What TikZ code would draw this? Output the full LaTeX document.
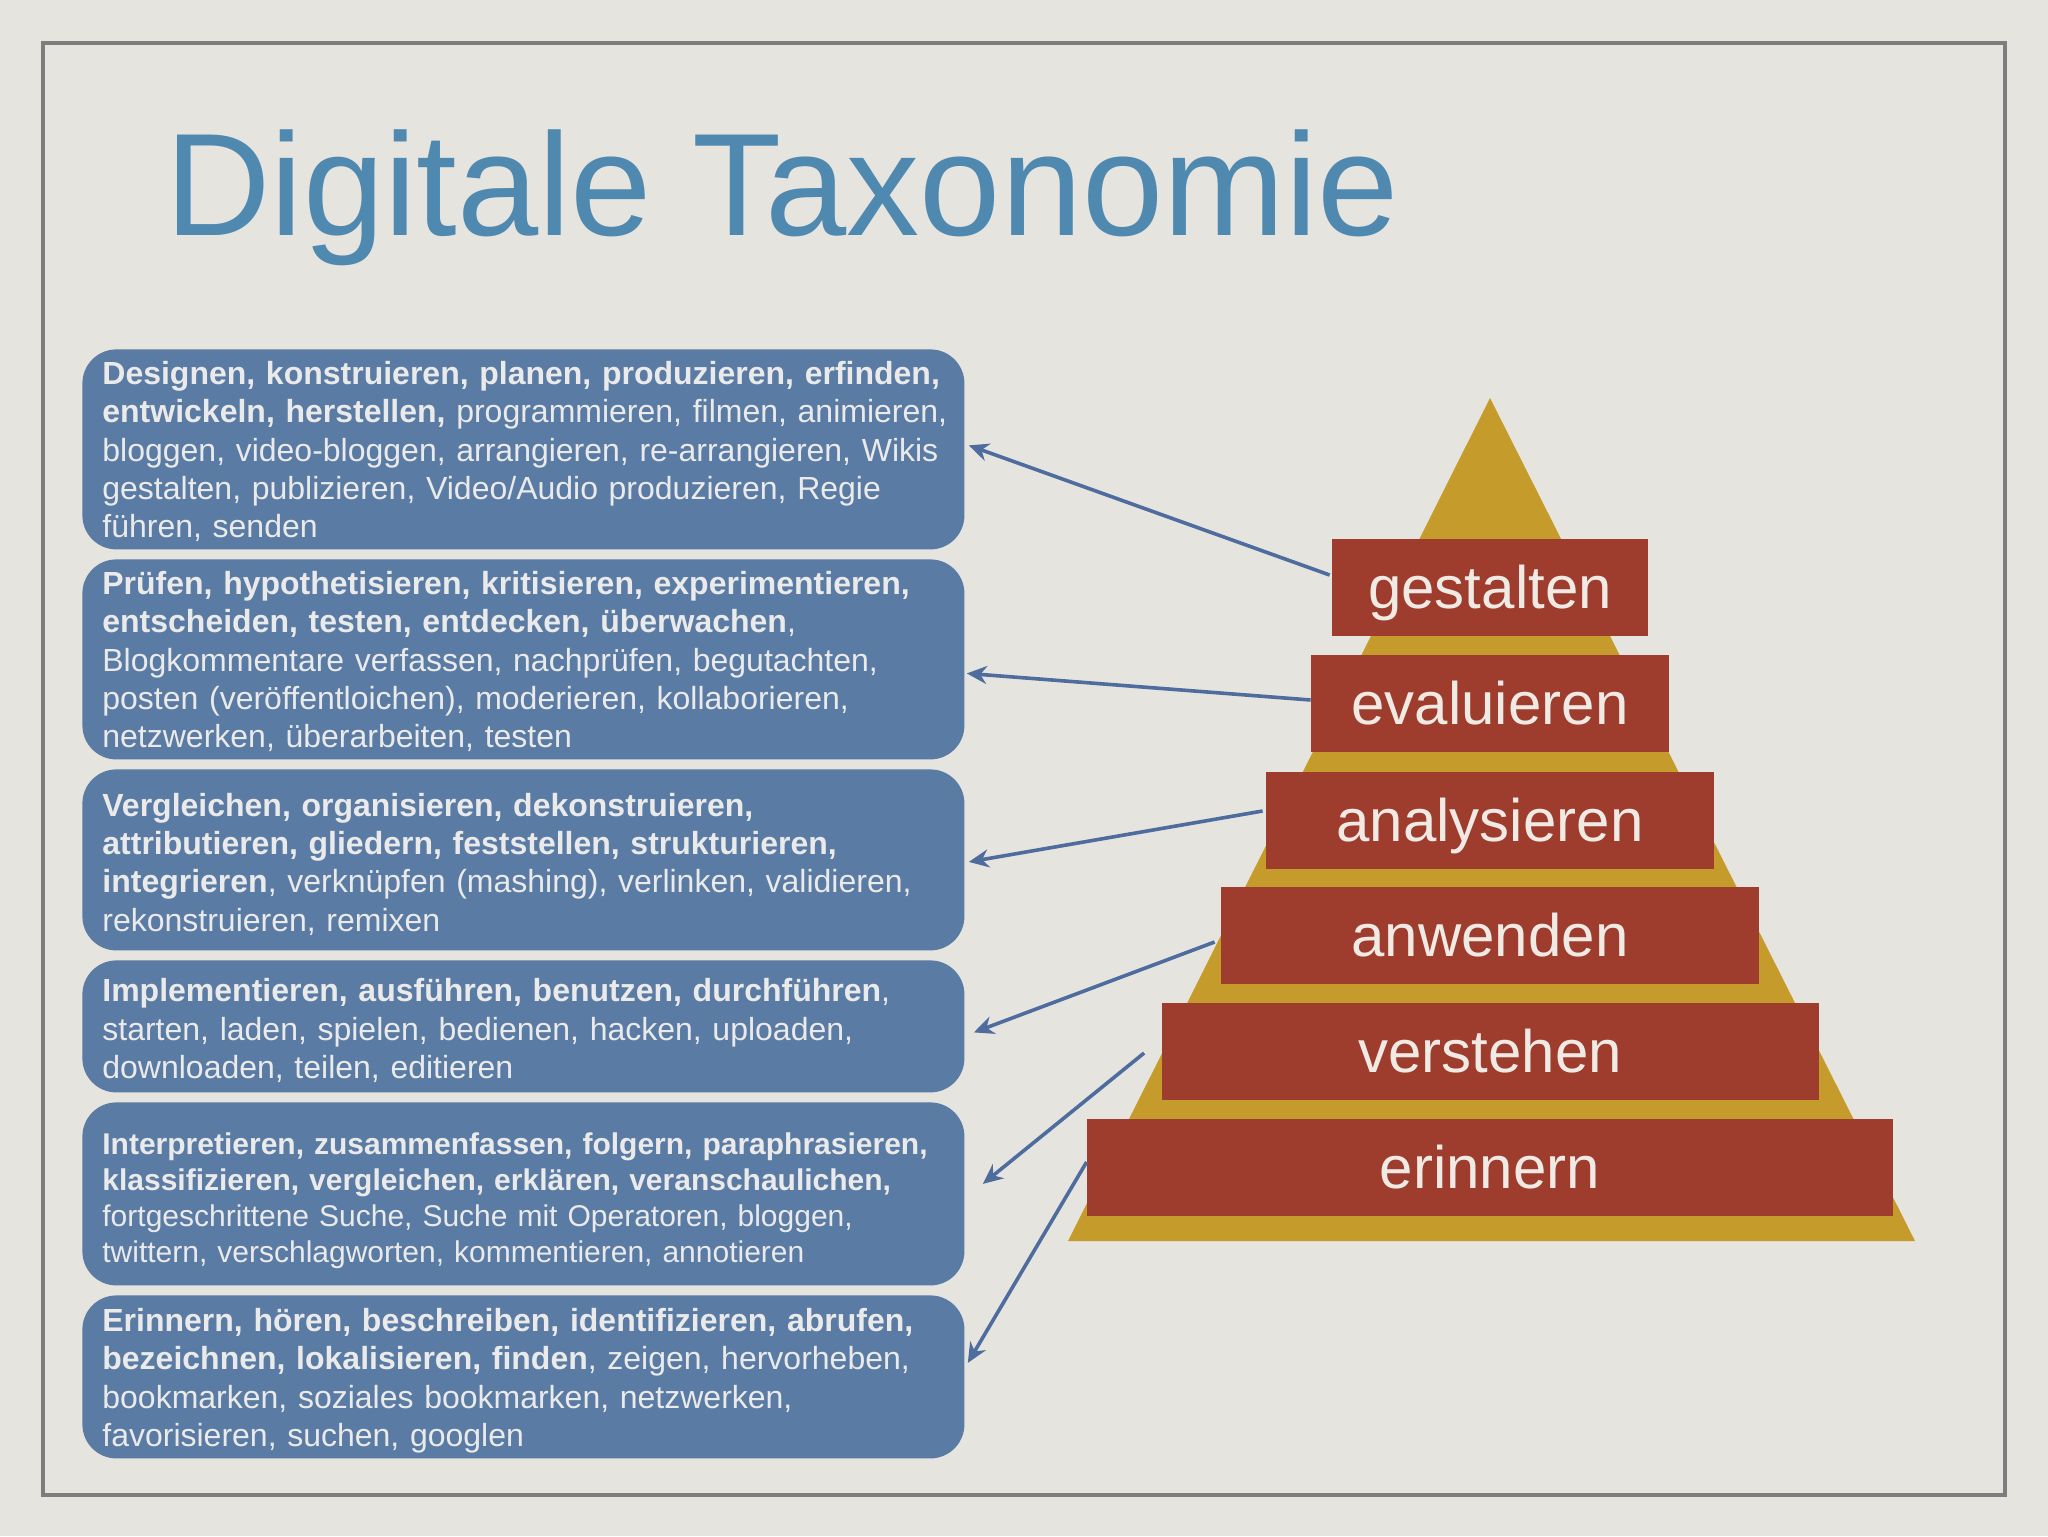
\documentclass[tikz,border=0pt]{standalone}
\usepackage{fontspec}
\setmainfont{Liberation Sans}
\usetikzlibrary{arrows.meta}
\definecolor{bgcol}{RGB}{230,228,223}
\definecolor{framecol}{RGB}{125,125,125}
\definecolor{titlecol}{RGB}{80,137,176}
\definecolor{boxcol}{RGB}{90,123,163}
\definecolor{boxtext}{RGB}{234,234,234}
\definecolor{conncol}{RGB}{78,108,158}
\definecolor{goldcol}{RGB}{197,156,43}
\definecolor{redcol}{RGB}{158,60,45}
\definecolor{blocktext}{RGB}{240,234,228}
\newcommand{\topstrut}[1]{\rule{0pt}{#1}}
\tikzset{
  verbbox/.style={anchor=north west, fill=boxcol, rounded corners=17pt,
    minimum width=441pt, text width=421pt, inner xsep=10pt, inner ysep=0pt,
    align=left, text=boxtext, font=\fontsize{16}{19.2}\selectfont},
  levelbox/.style={fill=redcol, minimum height=48.5pt, inner sep=0pt,
    text height=24.5pt, text depth=3.5pt, text=blocktext,
    font=\fontsize{30}{36}\selectfont},
  conn/.style={draw=conncol, line width=1.8pt, -{Stealth[length=10pt,width=9pt]}}
}
\begin{document}
\begin{tikzpicture}[x=0.5pt,y=-0.5pt]
\fill[bgcol] (0,0) rectangle (2048,1536);
\useasboundingbox (0,0) rectangle (2048,1536);
\draw[framecol, line width=1.75pt] (43,43) rectangle (2005,1495);

\node[anchor=base west, inner sep=0pt, text=titlecol, font=\fontsize{73}{80}\selectfont] (title) at (165,235) {Digitale Taxonomie};

% boxes
\node[verbbox, minimum height=100pt] (b1) at (82,349) {\mbox{\topstrut{17.4pt}\textbf{Designen, konstruieren, planen, produzieren, erfinden,}}\\
\mbox{\textbf{entwickeln, herstellen,} programmieren, filmen, animieren,}\\
\mbox{bloggen, video-bloggen, arrangieren, re-arrangieren, Wikis}\\
\mbox{gestalten, publizieren, Video/Audio produzieren, Regie}\\
\mbox{führen, senden\strut}};
\node[verbbox, minimum height=100pt] (b2) at (82,559) {\mbox{\topstrut{17.4pt}\textbf{Prüfen, hypothetisieren, kritisieren, experimentieren,}}\\
\mbox{\textbf{entscheiden, testen, entdecken, überwachen},}\\
\mbox{Blogkommentare verfassen, nachprüfen, begutachten,}\\
\mbox{posten (veröffentloichen), moderieren, kollaborieren,}\\
\mbox{netzwerken, überarbeiten, testen\strut}};
\node[verbbox, minimum height=90.5pt] (b3) at (82,769) {\mbox{\topstrut{19.5pt}\textbf{Vergleichen, organisieren, dekonstruieren,}}\\
\mbox{\textbf{attributieren, gliedern, feststellen, strukturieren,}}\\
\mbox{\textbf{integrieren}, verknüpfen (mashing), verlinken, validieren,}\\
\mbox{rekonstruieren, remixen\strut}};
\node[verbbox, minimum height=66pt] (b4) at (82,960) {\mbox{\topstrut{19.5pt}\textbf{Implementieren, ausführen, benutzen, durchführen},}\\
\mbox{starten, laden, spielen, bedienen, hacken, uploaden,}\\
\mbox{downloaden, teilen, editieren\strut}};
\node[verbbox, minimum height=91.5pt, font=\fontsize{15}{18}\selectfont] (b5) at (82,1102) {\mbox{\topstrut{19.5pt}\textbf{Interpretieren, zusammenfassen, folgern, paraphrasieren,}}\\
\mbox{\textbf{klassifizieren, vergleichen, erklären, veranschaulichen,}}\\
\mbox{fortgeschrittene Suche, Suche mit Operatoren, bloggen,}\\
\mbox{twittern, verschlagworten, kommentieren, annotieren\strut}};
\node[verbbox, minimum height=81.5pt] (b6) at (82,1295) {\mbox{\topstrut{18pt}\textbf{Erinnern, hören, beschreiben, identifizieren, abrufen,}}\\
\mbox{\textbf{bezeichnen, lokalisieren, finden}, zeigen, hervorheben,}\\
\mbox{bookmarken, soziales bookmarken, netzwerken,}\\
\mbox{favorisieren, suchen, googlen\strut}};

% pyramid
\fill[goldcol] (1490,398) -- (1915,1241) -- (1068,1241) -- cycle;
\node[levelbox, minimum width=158pt] (l1) at (1490,587) {gestalten};
\node[levelbox, minimum width=179pt] (l2) at (1490,703) {evaluieren};
\node[levelbox, minimum width=224pt] (l3) at (1490,820) {analysieren};
\node[levelbox, minimum width=269pt] (l4) at (1490,935) {anwenden};
\node[levelbox, minimum width=328.5pt] (l5) at (1490,1051) {verstehen};
\node[levelbox, minimum width=403pt] (l6) at (1490,1167) {erinnern};

% connectors
\draw[conn] ([shift={(-2,-12)}]l1.west) -- ([shift={(4,-4)}]b1.east);
\draw[conn] ([shift={(0,-3)}]l2.west) -- ([shift={(2,14)}]b2.east);
\draw[conn] ([shift={(-3,-9)}]l3.west) -- ([shift={(4,2)}]b3.east);
\draw[conn] ([shift={(-6,7)}]l4.west) -- ([shift={(9,6)}]b4.east);
\draw[conn] ([shift={(-17,2)}]l5.west) -- ([shift={(18,-10)}]b5.east);
\draw[conn] ([shift={(0,-5)}]l6.west) -- ([shift={(3,-14)}]b6.east);
\end{tikzpicture}
\end{document}
